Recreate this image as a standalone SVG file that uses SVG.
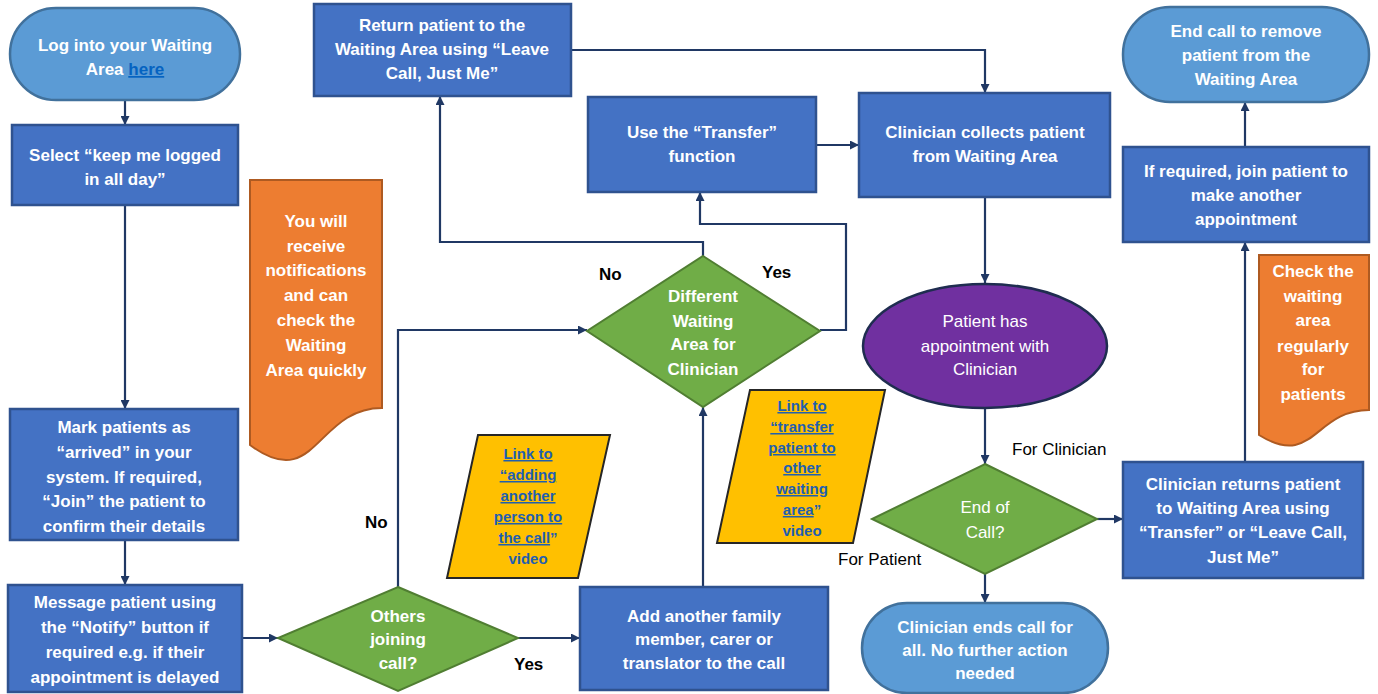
<svg xmlns="http://www.w3.org/2000/svg" width="1378" height="694" viewBox="0 0 1378 694">
<defs>
<marker id="ah" viewBox="0 0 10 10" refX="10" refY="5" markerWidth="9" markerHeight="9" markerUnits="userSpaceOnUse" orient="auto">
<path d="M0,0 L10,5 L0,10 Z" fill="#203864"/>
</marker>
<style>
.proc{fill:#4472C4;stroke:#2F528F;stroke-width:2.5}
.term{fill:#5B9BD5;stroke:#41719C;stroke-width:2.5}
.dec{fill:#70AD47;stroke:#507E32;stroke-width:2}
.doc{fill:#ED7D31;stroke:#AE5A21;stroke-width:2}
.io{fill:#FFC000;stroke:#262626;stroke-width:2}
.ell{fill:#7030A0;stroke:#1F2D50;stroke-width:2.5}
.t{font-family:"Liberation Sans",Arial,sans-serif;font-size:17px;font-weight:bold;fill:#fff;text-anchor:middle}
.tr{font-family:"Liberation Sans",Arial,sans-serif;font-size:17px;fill:#fff;text-anchor:middle}
.ty{font-family:"Liberation Sans",Arial,sans-serif;font-size:15px;font-weight:bold;fill:#1F5FB0;text-anchor:middle}
.u{text-decoration:underline}
.lb{font-family:"Liberation Sans",Arial,sans-serif;font-size:17px;font-weight:bold;fill:#000}
.lr{font-family:"Liberation Sans",Arial,sans-serif;font-size:17px;fill:#000}
.c{fill:none;stroke:#203864;stroke-width:2.2;marker-end:url(#ah)}
</style>
</defs>
<rect width="1378" height="694" fill="#fff"/>

<g id="connectors">
<path class="c" d="M125,100 V125"/>
<path class="c" d="M125,205 V409"/>
<path class="c" d="M125,540 V585"/>
<path class="c" d="M242,638 H278"/>
<path class="c" d="M518,638 H580"/>
<path class="c" d="M398,587 V330 H587"/>
<path class="c" d="M703,587 V407"/>
<path class="c" d="M703,256 V242 H440 V96"/>
<path class="c" d="M820,330 H846 V224 H700 V192"/>
<path class="c" d="M571,50 H985 V93"/>
<path class="c" d="M816,145 H859"/>
<path class="c" d="M985,197 V283"/>
<path class="c" d="M985,408 V464"/>
<path class="c" d="M1097,519 H1123"/>
<path class="c" d="M985,574 V603"/>
<path class="c" d="M1245,462 V242"/>
<path class="c" d="M1245,147 V102"/>
<text class="lb" x="365" y="528">No</text>
<text class="lb" x="514" y="670">Yes</text>
<text class="lb" x="599" y="280">No</text>
<text class="lb" x="762" y="278">Yes</text>
<text class="lr" x="1012" y="455">For Clinician</text>
<text class="lr" x="838" y="565">For Patient</text>
</g>

<g id="n-login">
<rect class="term" x="10" y="8" width="230" height="92" rx="46"/>
<text class="t" x="125" y="51">Log into your Waiting</text>
<text class="t" x="125" y="75">Area <tspan class="u" fill="#0563C1">here</tspan></text>
</g>

<g id="n-select">
<rect class="proc" x="12" y="125" width="226" height="80"/>
<text class="t" x="125" y="161">Select “keep me logged</text>
<text class="t" x="125" y="185">in all day”</text>
</g>

<g id="n-notifications">
<path class="doc" d="M250,180 H382 V408 C316,408 316,494 250,445 Z"/>
<text class="t" x="316" y="227">You will</text>
<text class="t" x="316" y="252">receive</text>
<text class="t" x="316" y="276">notifications</text>
<text class="t" x="316" y="301">and can</text>
<text class="t" x="316" y="326">check the</text>
<text class="t" x="316" y="351">Waiting</text>
<text class="t" x="316" y="376">Area quickly</text>
</g>

<g id="n-mark">
<rect class="proc" x="10" y="409" width="228" height="131"/>
<text class="t" x="124" y="433">Mark patients as</text>
<text class="t" x="124" y="458">“arrived” in your</text>
<text class="t" x="124" y="483">system. If required,</text>
<text class="t" x="124" y="507">“Join” the patient to</text>
<text class="t" x="124" y="532">confirm their details</text>
</g>

<g id="n-message">
<rect class="proc" x="8" y="585" width="234" height="107"/>
<text class="t" x="125" y="608">Message patient using</text>
<text class="t" x="125" y="633">the “Notify” button if</text>
<text class="t" x="125" y="658">required e.g. if their</text>
<text class="t" x="125" y="683">appointment is delayed</text>
</g>

<g id="n-others">
<path class="dec" d="M398,587 L518,638 L398,691 L278,638 Z"/>
<text class="t" x="398" y="622">Others</text>
<text class="t" x="398" y="645">joining</text>
<text class="t" x="398" y="669">call?</text>
</g>

<g id="n-add">
<rect class="proc" x="580" y="587" width="248" height="103"/>
<text class="t" x="704" y="622">Add another family</text>
<text class="t" x="704" y="645">member, carer or</text>
<text class="t" x="704" y="669">translator to the call</text>
</g>

<g id="n-link-adding">
<path class="io" d="M478,435 H610 L578,578 H447 Z"/>
<text class="ty" x="528" y="459"><tspan class="u">Link to</tspan></text>
<text class="ty" x="528" y="480"><tspan class="u">“adding</tspan></text>
<text class="ty" x="528" y="501"><tspan class="u">another</tspan></text>
<text class="ty" x="528" y="522"><tspan class="u">person to</tspan></text>
<text class="ty" x="528" y="543"><tspan class="u">the call</tspan>”</text>
<text class="ty" x="528" y="564">video</text>
</g>

<g id="n-different">
<path class="dec" d="M703,256 L820,331 L703,407 L587,331 Z"/>
<text class="t" x="703" y="302">Different</text>
<text class="t" x="703" y="327">Waiting</text>
<text class="t" x="703" y="350">Area for</text>
<text class="t" x="703" y="375">Clinician</text>
</g>

<g id="n-link-transfer">
<path class="io" d="M750,390 H885 L853,543 H717 Z"/>
<text class="ty" x="802" y="411"><tspan class="u">Link to</tspan></text>
<text class="ty" x="802" y="432"><tspan class="u">“transfer</tspan></text>
<text class="ty" x="802" y="453"><tspan class="u">patient to</tspan></text>
<text class="ty" x="802" y="473"><tspan class="u">other</tspan></text>
<text class="ty" x="802" y="494"><tspan class="u">waiting</tspan></text>
<text class="ty" x="802" y="515"><tspan class="u">area</tspan>”</text>
<text class="ty" x="802" y="536">video</text>
</g>

<g id="n-return">
<rect class="proc" x="314" y="4" width="257" height="92"/>
<text class="t" x="442" y="31">Return patient to the</text>
<text class="t" x="442" y="55">Waiting Area using “Leave</text>
<text class="t" x="442" y="79">Call, Just Me”</text>
</g>

<g id="n-use-transfer">
<rect class="proc" x="588" y="97" width="228" height="95"/>
<text class="t" x="702" y="138">Use the “Transfer”</text>
<text class="t" x="702" y="162">function</text>
</g>

<g id="n-collects">
<rect class="proc" x="859" y="93" width="251" height="104"/>
<text class="t" x="985" y="138">Clinician collects patient</text>
<text class="t" x="985" y="162">from Waiting Area</text>
</g>

<g id="n-appointment">
<ellipse class="ell" cx="985" cy="346" rx="122" ry="62"/>
<text class="tr" x="985" y="327">Patient has</text>
<text class="tr" x="985" y="352">appointment with</text>
<text class="tr" x="985" y="375">Clinician</text>
</g>

<g id="n-endofcall">
<path class="dec" d="M985,464 L1097,519 L985,574 L872,519 Z"/>
<text class="tr" x="985" y="513">End of</text>
<text class="tr" x="985" y="538">Call?</text>
</g>

<g id="n-clin-ends">
<rect class="term" x="862" y="603" width="246" height="90" rx="45"/>
<text class="t" x="985" y="633">Clinician ends call for</text>
<text class="t" x="985" y="656">all. No further action</text>
<text class="t" x="985" y="679">needed</text>
</g>

<g id="n-clin-returns">
<rect class="proc" x="1123" y="462" width="240" height="116"/>
<text class="t" x="1243" y="490">Clinician returns patient</text>
<text class="t" x="1243" y="514">to Waiting Area using</text>
<text class="t" x="1243" y="538">“Transfer” or “Leave Call,</text>
<text class="t" x="1243" y="563">Just Me”</text>
</g>

<g id="n-check">
<path class="doc" d="M1259,255 H1369 V410 C1314,410 1314,469 1259,435 Z"/>
<text class="t" x="1313" y="277">Check the</text>
<text class="t" x="1313" y="302">waiting</text>
<text class="t" x="1313" y="326">area</text>
<text class="t" x="1313" y="352">regularly</text>
<text class="t" x="1313" y="375">for</text>
<text class="t" x="1313" y="400">patients</text>
</g>

<g id="n-ifrequired">
<rect class="proc" x="1123" y="147" width="246" height="95"/>
<text class="t" x="1246" y="177">If required, join patient to</text>
<text class="t" x="1246" y="201">make another</text>
<text class="t" x="1246" y="225">appointment</text>
</g>

<g id="n-endcall">
<rect class="term" x="1123" y="7" width="246" height="95" rx="47"/>
<text class="t" x="1246" y="37">End call to remove</text>
<text class="t" x="1246" y="61">patient from the</text>
<text class="t" x="1246" y="85">Waiting Area</text>
</g>
</svg>
